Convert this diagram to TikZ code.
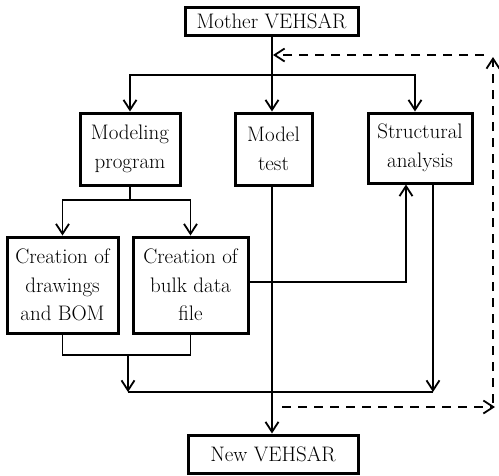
\documentclass[tikz,border=0pt]{standalone}
\usetikzlibrary{arrows.meta}
\begin{document}
\begin{tikzpicture}[x=1pt,y=-1pt,
    box/.style={draw,line width=3pt,align=center,inner sep=0pt,font=\fontsize{21}{28.5}\selectfont},
    conn/.style={line width=1.8pt},
    arr/.style={conn,-{Straight Barb[length=10pt,width=13pt]}},
    dasharr/.style={arr,dash pattern=on 9pt off 7pt}]
\useasboundingbox (0,0) rectangle (499,475);
% boxes
\node[box,minimum width=173pt,minimum height=28pt] (mother) at (271.5,21) {Mother VEHSAR};
\node[box,minimum width=100pt,minimum height=72pt] (modeling) at (130,149) {Modeling\\program};
\node[box,minimum width=77pt,minimum height=72pt] (test) at (273.5,149) {Model\\test};
\node[box,minimum width=104pt,minimum height=70pt] (struct) at (420,148) {Structural\\analysis};
\node[box,minimum width=111pt,minimum height=96pt] (drawings) at (62.5,285) {Creation of\\drawings\\and BOM};
\node[box,minimum width=115pt,minimum height=96pt] (bulk) at (190.5,285) {Creation of\\bulk data\\file};
\node[box,minimum width=170pt,minimum height=38pt] (new) at (273,454) {New VEHSAR};
% junctions
\coordinate (split) at (272,75);
\coordinate (msplit) at (130,200);
\coordinate (merge) at (128,355);
\coordinate (sumleft) at (128,392);
\coordinate (sumright) at (433,392);
\coordinate (bulkout) at (406,282);
\coordinate (loopbot) at (282,407);
\coordinate (loopbr) at (495,407);
\coordinate (loopup) at (493,403);
\coordinate (looptr) at (493,57);
\coordinate (loopleft) at (484,55);
\coordinate (looptop) at (273,55);
% solid connectors
\draw[arr] (mother.south -| split) -- (test.north -| split);
\draw[arr] (split) -| (modeling.north);
\draw[arr] (split) -| (struct.north -| 415,0);
\draw[arr] (modeling.south) -- (msplit) -| (drawings.north);
\draw[arr] (msplit) -| (bulk.north);
\draw[arr] (bulk.east |- bulkout) -| (struct.south -| bulkout);
\draw[arr] (struct.south -| sumright) -- (sumright);
\draw[conn] (drawings.south) |- (merge) -| (bulk.south);
\draw[arr] (merge) -- (sumleft);
\draw[conn] (sumleft) -- (sumright);
\draw[arr] (test.south -| split) -- (new.north -| split);
% feedback loop
\draw[dasharr] (loopbot) -- (loopbr);
\draw[dasharr] (loopup) -- (looptr);
\draw[dasharr] (loopleft) -- (looptop);
\end{tikzpicture}
\end{document}
